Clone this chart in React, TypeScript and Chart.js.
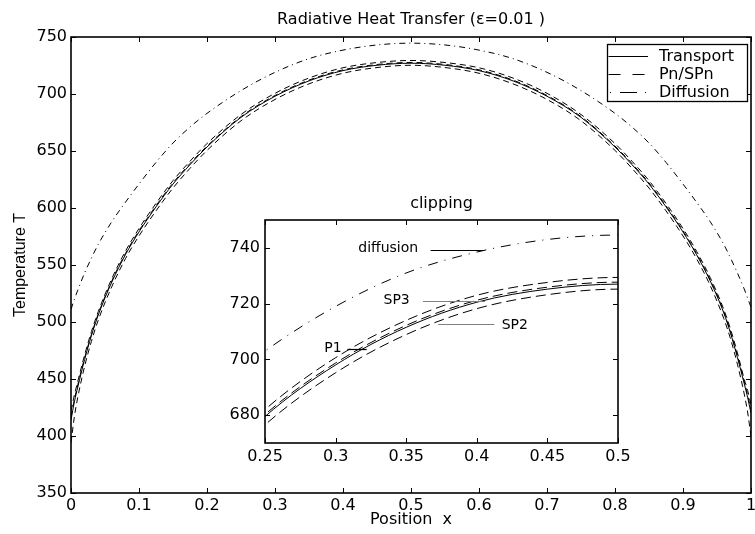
import React, { useEffect, useRef } from "react";
import { Chart, registerables } from "chart.js";

Chart.register(...registerables);

// ---------- data ----------
const X = [
  0, 0.005, 0.01, 0.02, 0.03, 0.04, 0.06, 0.08, 0.1, 0.125, 0.15, 0.175, 0.2, 0.25, 0.3, 0.35, 0.4, 0.45, 0.5,
  0.55, 0.6, 0.65, 0.7, 0.75, 0.8, 0.825, 0.85, 0.875, 0.9, 0.92, 0.94, 0.96, 0.97, 0.98, 0.99, 0.995, 1,
];

const TRANSPORT = [
  414, 430, 443, 467, 488, 506, 535, 559, 579, 601, 621, 638, 653.5, 679.5, 698, 711.5, 720.5, 725.2, 727,
  725.2, 720.5, 711.5, 698, 679.5, 653.5, 638, 621, 601, 579, 559, 536, 508, 490, 469, 446, 434, 420,
];

const P1 = [
  422, 436, 448, 471, 491.5, 509, 538, 562, 582, 604, 624, 641, 656.5, 682, 700.6, 714, 723, 727.6, 729.4,
  727.6, 723, 714, 700.6, 682, 656.5, 641, 624, 604, 582, 562, 539, 511, 493.5, 473, 450, 440, 428,
];

const SP3 = [
  417, 432, 445, 468.5, 489, 507, 536, 560, 580, 602, 622, 639, 654.3, 680.2, 698.7, 712.2, 721.2, 725.9, 727.7,
  725.9, 721.2, 712.2, 698.7, 680.2, 654.3, 639, 622, 602, 580, 560, 537, 509, 491, 470.5, 448, 436, 423,
];

const SP2 = [
  394, 417, 434, 461, 483, 501.5, 531, 555.5, 575.5, 597.5, 617.5, 634.8, 650.5, 676.5, 695.2, 708.9, 718.2, 723.2, 725.2,
  723.2, 718.2, 708.9, 695.2, 676.5, 650.5, 634.8, 617.5, 597.5, 575.5, 555.5, 532, 503, 485, 463, 437, 421, 400,
];

const DIFFUSION = [
  511, 520, 528, 543, 556, 568, 588, 605, 621, 640, 657, 671, 683, 703, 719, 731, 738.5, 743, 744.6,
  743, 738.5, 731, 719, 703, 683, 671, 657, 640, 621, 605, 588, 568, 556, 543, 529, 521, 513,
];

const SERIES_LABELS = ["Transport", "Pn/SPn", "SP3", "SP2", "Diffusion"];
const SERIES_VALUES = [TRANSPORT, P1, SP3, SP2, DIFFUSION];
const SERIES_STYLE = ["solid", "dash", "dash", "dash", "dashdot"];
const LEGEND_ITEMS = [0, 1, 4];

const MAIN_X_TICKS = [0, 0.1, 0.2, 0.3, 0.4, 0.5, 0.6, 0.7, 0.8, 0.9, 1];
const MAIN_X_LABELS = ["0", "0.1", "0.2", "0.3", "0.4", "0.5", "0.6", "0.7", "0.8", "0.9", "1"];
const MAIN_Y_TICKS = [350, 400, 450, 500, 550, 600, 650, 700, 750];

const INSET_X_TICKS = [0.25, 0.3, 0.35, 0.4, 0.45, 0.5];
const INSET_X_LABELS = ["0.25", "0.3", "0.35", "0.4", "0.45", "0.5"];
const INSET_Y_TICKS = [680, 700, 720, 740];

const INSET_NOTES = [
  { text: "diffusion", tx: 0.3585, ty: 740, x1: 0.3673, x2: 0.4046, ly: 739.3, color: "#000", align: "right" },
  { text: "SP3", tx: 0.3525, ty: 721, x1: 0.3619, x2: 0.4058, ly: 720.8, color: "#808080", align: "right" },
  { text: "SP2", tx: 0.4176, ty: 712.3, x1: 0.3727, x2: 0.4124, ly: 712.6, color: "#808080", align: "left" },
  { text: "P1", tx: 0.3043, ty: 704, x1: 0.3083, x2: 0.322, ly: 703.7, color: "#000", align: "right" },
];

// ---------- styling helpers ----------
const FONT = "DejaVu Sans";

function makeDatasets(dash: number[], dashDot: number[]) {
  return SERIES_VALUES.map((vals, k) => ({
    label: SERIES_LABELS[k],
    data: X.map((x, i) => ({ x, y: vals[i] })),
    borderColor: "#000",
    borderWidth: 1,
    borderDash: SERIES_STYLE[k] === "dash" ? dash : SERIES_STYLE[k] === "dashdot" ? dashDot : [],
    pointRadius: 0,
    pointHoverRadius: 0,
    fill: false,
    cubicInterpolationMode: "monotone" as const,
    clip: 0,
  }));
}

const whiteBg = {
  id: "whiteBg",
  beforeDraw(chart: any) {
    const { ctx, width, height } = chart;
    ctx.save();
    ctx.fillStyle = "#fff";
    ctx.fillRect(0, 0, width, height);
    ctx.restore();
  },
};

const framePlugin = {
  id: "frame",
  afterDatasetsDraw(chart: any, _args: any, opts: any) {
    const { ctx, chartArea: a, scales } = chart;
    const len = opts.tickLen ?? 5;
    ctx.save();
    ctx.setLineDash([]);
    ctx.strokeStyle = "#000";
    ctx.lineWidth = 1;
    ctx.beginPath();
    for (const t of scales.x.ticks) {
      const p = Math.round(scales.x.getPixelForValue(t.value)) + 0.5;
      ctx.moveTo(p, a.bottom);
      ctx.lineTo(p, a.bottom - len);
      ctx.moveTo(p, a.top);
      ctx.lineTo(p, a.top + len);
    }
    for (const t of scales.y.ticks) {
      const p = Math.round(scales.y.getPixelForValue(t.value)) + 0.5;
      ctx.moveTo(a.left, p);
      ctx.lineTo(a.left + len, p);
      ctx.moveTo(a.right, p);
      ctx.lineTo(a.right - len, p);
    }
    ctx.stroke();
    ctx.lineWidth = opts.frameWidth ?? 1.6;
    ctx.strokeRect(a.left, a.top, a.right - a.left, a.bottom - a.top);
    ctx.restore();
  },
};

const boxLegend = {
  id: "boxLegend",
  afterDraw(chart: any, _args: any, opts: any) {
    if (!opts || !opts.show) return;
    const { ctx, chartArea: a } = chart;
    const w = 140, h = 57;
    const right = a.right - 4, top = a.top + 7;
    const left = right - w;
    ctx.save();
    ctx.fillStyle = "#fff";
    ctx.fillRect(left, top, w, h);
    ctx.strokeStyle = "#000";
    ctx.lineWidth = 1.3;
    ctx.setLineDash([]);
    ctx.strokeRect(left + 0.5, top + 0.5, w, h);
    const dashes = [[], [12, 12], [1, 9, 17, 8]];
    const starts = [left + 1.5, left + 1.5, left + 3];
    const ends = [left + 41, left + 38, left + 41];
    ctx.font = `16px "${FONT}"`;
    ctx.textBaseline = "middle";
    ctx.textAlign = "left";
    LEGEND_ITEMS.forEach((di, r) => {
      const y = Math.round(top + 11.7 + r * 18) + 0.5;
      ctx.lineWidth = 1;
      ctx.setLineDash(dashes[r]);
      ctx.beginPath();
      ctx.moveTo(starts[r], y);
      ctx.lineTo(ends[r], y);
      ctx.stroke();
      ctx.setLineDash([]);
      ctx.fillStyle = "#000";
      ctx.fillText(chart.data.datasets[di].label, left + 52, y + 0.5);
    });
    ctx.restore();
  },
};

const notesPlugin = {
  id: "notes",
  afterDatasetsDraw(chart: any, _args: any, opts: any) {
    if (!opts || !opts.items) return;
    const { ctx, scales } = chart;
    ctx.save();
    ctx.font = `14px "${FONT}"`;
    ctx.textBaseline = "middle";
    ctx.setLineDash([]);
    for (const n of opts.items) {
      const ly = Math.round(scales.y.getPixelForValue(n.ly)) + 0.5;
      ctx.strokeStyle = n.color;
      ctx.lineWidth = 1.2;
      ctx.beginPath();
      ctx.moveTo(scales.x.getPixelForValue(n.x1), ly);
      ctx.lineTo(scales.x.getPixelForValue(n.x2), ly);
      ctx.stroke();
      ctx.fillStyle = "#000";
      ctx.textAlign = n.align;
      ctx.fillText(n.text, scales.x.getPixelForValue(n.tx), scales.y.getPixelForValue(n.ty));
    }
    ctx.restore();
  },
};

function tickFont(size: number) {
  return { family: FONT, size, weight: "normal" as const };
}

function mainConfig(): any {
  return {
    type: "line",
    data: { datasets: makeDatasets([6, 4], [6, 4, 1, 4]) },
    plugins: [whiteBg, framePlugin, boxLegend],
    options: {
      responsive: false,
      animation: false,
      devicePixelRatio: 1,
      events: [],
      layout: { padding: { left: 0, right: 4, top: 0, bottom: 0 } },
      scales: {
        x: {
          type: "linear",
          min: 0,
          max: 1,
          afterBuildTicks: (s: any) => {
            s.ticks = MAIN_X_TICKS.map((v) => ({ value: v }));
          },
          afterFit: (s: any) => {
            s.height = 41;
            s.paddingLeft = 0;
            s.paddingRight = 0;
          },
          ticks: {
            callback: (_v: any, i: number) => MAIN_X_LABELS[i],
            font: tickFont(16),
            color: "#000",
            padding: 3,
            autoSkip: false,
            maxRotation: 0,
            minRotation: 0,
          },
          grid: { display: false, drawTicks: false },
          border: { display: false },
          title: {
            display: true,
            text: "Position  x",
            font: tickFont(16),
            color: "#000",
            padding: { top: 0, bottom: 4.4 },
          },
        },
        y: {
          type: "linear",
          min: 350,
          max: 750,
          afterBuildTicks: (s: any) => {
            s.ticks = MAIN_Y_TICKS.map((v) => ({ value: v }));
          },
          afterFit: (s: any) => {
            s.width = 71;
            s.paddingTop = 0;
            s.paddingBottom = 0;
          },
          ticks: {
            callback: (v: any) => String(v),
            font: tickFont(16),
            color: "#000",
            padding: 4,
            autoSkip: false,
          },
          grid: { display: false, drawTicks: false },
          border: { display: false },
          title: {
            display: true,
            text: "Temperature T",
            font: { family: "Liberation Sans", size: 16, weight: "normal" },
            color: "#000",
            padding: { top: 11.4, bottom: 0 },
          },
        },
      },
      plugins: {
        legend: { display: false },
        tooltip: { enabled: false },
        title: {
          display: true,
          text: "Radiative Heat Transfer (\u03b5=0.01 )",
          fullSize: false,
          font: tickFont(16),
          color: "#000",
          padding: { top: 10.4, bottom: 7.4 },
        },
        frame: { tickLen: 5, frameWidth: 1.6 },
        boxLegend: { show: true },
      },
    },
  };
}

function insetConfig(): any {
  return {
    type: "line",
    data: { datasets: makeDatasets([10, 5], [10, 7, 1, 7]) },
    plugins: [whiteBg, framePlugin, notesPlugin],
    options: {
      responsive: false,
      animation: false,
      devicePixelRatio: 1,
      events: [],
      layout: { padding: { left: 0, right: 17, top: 0, bottom: 0 } },
      scales: {
        x: {
          type: "linear",
          min: 0.25,
          max: 0.5,
          afterBuildTicks: (s: any) => {
            s.ticks = INSET_X_TICKS.map((v) => ({ value: v }));
          },
          afterFit: (s: any) => {
            s.height = 27;
            s.paddingLeft = 0;
            s.paddingRight = 0;
          },
          ticks: {
            callback: (_v: any, i: number) => INSET_X_LABELS[i],
            font: tickFont(16),
            color: "#000",
            padding: 4,
            autoSkip: false,
            maxRotation: 0,
            minRotation: 0,
          },
          grid: { display: false, drawTicks: false },
          border: { display: false },
        },
        y: {
          type: "linear",
          min: 670,
          max: 750,
          afterBuildTicks: (s: any) => {
            s.ticks = INSET_Y_TICKS.map((v) => ({ value: v }));
          },
          afterFit: (s: any) => {
            s.width = 50;
            s.paddingTop = 0;
            s.paddingBottom = 0;
          },
          ticks: {
            callback: (v: any) => String(v),
            font: tickFont(16),
            color: "#000",
            padding: 5,
            autoSkip: false,
          },
          grid: { display: false, drawTicks: false },
          border: { display: false },
        },
      },
      plugins: {
        legend: { display: false },
        tooltip: { enabled: false },
        title: {
          display: true,
          text: "clipping",
          fullSize: false,
          font: tickFont(16),
          color: "#000",
          padding: { top: 6.4, bottom: 6.4 },
        },
        frame: { tickLen: 5, frameWidth: 1.6 },
        notes: { items: INSET_NOTES },
      },
    },
  };
}

export default function App() {
  const mainRef = useRef<HTMLCanvasElement>(null);
  const insetRef = useRef<HTMLCanvasElement>(null);

  useEffect(() => {
    const main = new Chart(mainRef.current as HTMLCanvasElement, mainConfig());
    const inset = new Chart(insetRef.current as HTMLCanvasElement, insetConfig());
    return () => {
      main.destroy();
      inset.destroy();
    };
  }, []);

  return (
    <div style={{ position: "fixed", left: 0, top: 0, width: 755, height: 534, background: "#fff", overflow: "hidden" }}>
      <canvas ref={mainRef} width={755} height={534} style={{ position: "absolute", left: 0, top: 0, display: "block" }} />
      <canvas ref={insetRef} width={420} height={282} style={{ position: "absolute", left: 215, top: 188, display: "block" }} />
    </div>
  );
}
